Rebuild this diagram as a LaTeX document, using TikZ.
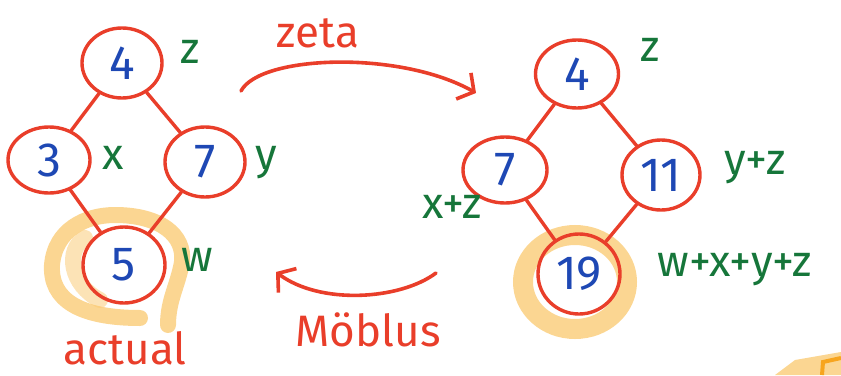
\documentclass[tikz,border=0pt]{standalone}
\usepackage{fontspec}
\setmainfont{Fira Sans}
\usetikzlibrary{shapes.geometric,arrows.meta}
\definecolor{ink}{RGB}{233,62,42}
\definecolor{num}{RGB}{30,72,180}
\definecolor{lab}{RGB}{22,118,58}
\definecolor{hl}{RGB}{250,200,110}
\definecolor{hldark}{RGB}{247,165,30}
\tikzset{
  nd/.style={ellipse,draw=ink,line width=3.4pt,inner sep=0pt,text=num,font=\fontsize{48}{48}\selectfont},
  ed/.style={draw=ink,line width=3.4pt,line cap=round},
  lbl/.style={text=lab,font=\fontsize{44}{44}\selectfont,inner sep=0pt},
  rlbl/.style={text=ink,font=\fontsize{44}{44}\selectfont,inner sep=0pt},
  bigarrow/.style={draw=ink,line width=3.6pt,line cap=round,-{Straight Barb[length=12pt,width=30pt,line width=3.6pt]}},
  glow/.style={draw=hl,line width=16pt,line cap=round,opacity=0.75}
}
\begin{document}
\begin{tikzpicture}[x=1pt,y=-1pt]
\useasboundingbox (0,0) rectangle (841,375);
% highlights
\draw[glow] (140,318) .. controls (80,318) and (50,300) .. (52,265)
  .. controls (55,230) and (85,215) .. (115,215)
  .. controls (160,215) and (185,235) .. (182,262)
  .. controls (178,285) and (168,300) .. (168,325);
\draw[glow,opacity=0.5] (100,300) .. controls (70,285) and (65,250) .. (85,238);
\draw[glow,line width=20pt] (575,282) ellipse (52 and 47);
\fill[hl,opacity=0.75] (775,375) -- (795,360) -- (841,352) -- (841,375) -- cycle;
\draw[hldark,line width=4pt] (822,375) -- (823,362) -- (841,358);
% left graph
\node[nd,minimum width=80pt,minimum height=70pt] (L4) at (122,63) {4};
\node[nd,minimum width=82pt,minimum height=66pt] (L3) at (49,160) {3};
\node[nd,minimum width=80pt,minimum height=70pt] (L7) at (205,162) {7};
\node[nd,minimum width=82pt,minimum height=76pt] (L5) at (124,265) {5};
\draw[ed] (L4) -- (L3);
\draw[ed] (L4) -- (L7);
\draw[ed] (L3) -- (L5);
\draw[ed] (L7) -- (L5);
\node[lbl] (Lz) at (190,52) {z};
\node[lbl] (Lx) at (113,158) {x};
\node[lbl] (Ly) at (266,163) {y};
\node[lbl] (Lw) at (197,260) {w};
\node[rlbl] (act) at (125,348) {actual};
% right graph
\node[nd,minimum width=83pt,minimum height=68pt] (R4) at (577,74) {4};
\node[nd,minimum width=84pt,minimum height=66pt] (R7) at (505,170) {7};
\node[nd,minimum width=78pt,minimum height=70pt] (R11) at (661,175) {11};
\node[nd,minimum width=82pt,minimum height=80pt] (R19) at (579,274) {19};
\draw[ed] (R4) -- (R7);
\draw[ed] (R4) -- (R11);
\draw[ed] (R7) -- (R19);
\draw[ed] (R11) -- (R19);
\node[lbl] (Rz) at (650,50) {z};
\node[lbl] (Rxz) at (452,207) {x+z};
\node[lbl] (Ryz) at (755,168) {y+z};
\node[lbl] (Rall) at (735,270) {w+x+y+z};
% arrows
\coordinate (zs) at (241,91);
\coordinate (ze) at (476,93);
\coordinate (ms) at (436,273);
\coordinate (me) at (276,272);
\draw[bigarrow] (zs) .. controls (260,55) and (400,50) .. (ze);
\draw[bigarrow] (ms) .. controls (400,300) and (320,305) .. (me);
\node[rlbl] (zeta) at (318,33) {zeta};
\node[rlbl] (mob) at (368,330) {Möblus};
\end{tikzpicture}
\end{document}
